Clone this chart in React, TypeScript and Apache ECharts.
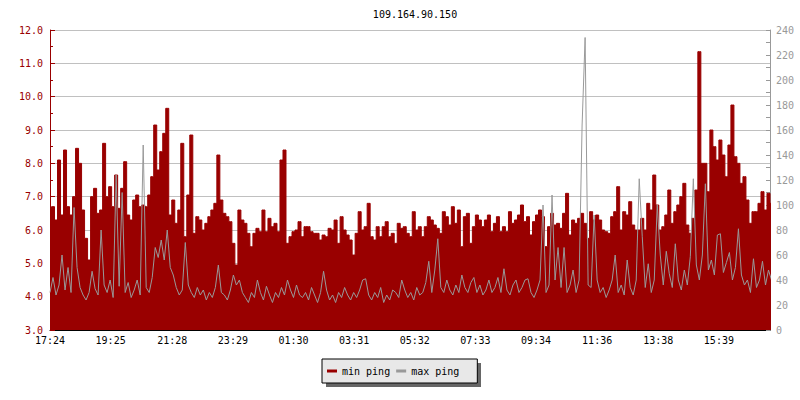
import React, { useEffect, useRef } from 'react';
import * as echarts from 'echarts';

const chartTitle = '109.164.90.150';
const seriesNames = ['min ping', 'max ping'];
const sampleStepMinutes = 6;
const tickMinutes = [0, 121, 244, 365, 486, 607, 728, 849, 970, 1092, 1214, 1335];
const tickLabels = ['17:24', '19:25', '21:28', '23:29', '01:30', '03:31', '05:32', '07:33', '09:34', '11:36', '13:38', '15:39'];

// min ping (left axis, ms)
const minPing = [
  5.5, 6.7, 6.3, 8.1, 6.45, 8.4, 6.7, 6.45, 7.0, 8.45,
  8.0, 6.6, 5.75, 5.1, 7.0, 7.25, 6.5, 6.6, 8.6, 7.0,
  7.3, 6.7, 7.65, 6.65, 7.25, 8.05, 6.45, 6.3, 6.9, 7.05,
  6.7, 6.75, 6.7, 7.05, 7.6, 9.15, 7.8, 8.35, 8.9, 9.65,
  6.45, 6.9, 6.2, 6.6, 8.6, 5.8, 7.05, 8.85, 5.9, 6.4,
  6.3, 6.0, 6.2, 6.4, 6.6, 6.8, 8.25, 6.9, 6.5, 6.4,
  6.25, 5.6, 4.95, 6.6, 6.3, 6.2, 5.9, 5.5, 5.9, 6.05,
  5.95, 6.6, 5.95, 6.35, 6.1, 6.2, 5.95, 8.1, 8.4, 5.6,
  5.8, 5.95, 6.0, 6.25, 5.8, 6.1, 6.1, 5.95, 5.9, 5.9,
  5.7, 5.85, 5.8, 6.05, 6.0, 6.3, 5.6, 6.4, 6.0, 5.85,
  5.7, 5.25, 5.9, 6.55, 6.0, 6.1, 6.8, 5.8, 5.7, 6.1,
  5.8, 6.1, 6.25, 5.8, 5.9, 5.6, 6.2, 6.05, 6.1, 5.9,
  5.8, 6.55, 6.0, 6.1, 5.8, 6.1, 6.4, 6.3, 6.15, 6.05,
  5.9, 6.55, 6.4, 6.15, 6.7, 6.2, 6.6, 5.5, 6.4, 6.5,
  5.6, 6.1, 6.45, 6.3, 6.1, 6.3, 6.45, 5.95, 6.2, 6.4,
  5.95, 6.1, 5.95, 6.55, 6.2, 6.3, 6.45, 6.75, 6.25, 6.4,
  5.85, 6.25, 6.45, 6.6, 6.4, 5.5, 6.1, 6.5, 6.15, 6.2,
  6.05, 6.5, 7.1, 5.85, 6.3, 6.2, 6.35, 6.5, 6.2, 5.75,
  6.55, 6.3, 6.45, 6.3, 6.0, 5.95, 5.9, 6.4, 6.55, 7.3,
  6.0, 6.55, 6.45, 6.85, 6.15, 6.0, 6.0, 6.35, 6.0, 6.8,
  6.6, 7.65, 6.75, 6.0, 6.1, 6.45, 7.2, 6.2, 6.55, 6.75,
  7.0, 7.4, 6.15, 5.9, 6.35, 7.2, 11.35, 8.0, 8.0, 7.15,
  9.0, 8.5, 8.1, 8.7, 8.25, 7.6, 8.55, 9.75, 8.2, 8.0,
  7.4, 7.6, 6.9, 6.2, 6.55, 6.55, 6.8, 7.15, 6.6, 7.1,
  6.8,
];

// max ping (right axis, ms)
const maxPing = [
  30, 42, 28, 36, 60, 32, 50, 30, 98, 50,
  34, 28, 24, 30, 47, 33, 28, 80, 36, 30,
  40, 26, 124, 35, 110, 30, 38, 26, 32, 40,
  28, 148, 34, 30, 42, 66, 58, 72, 56, 80,
  50, 44, 34, 28, 32, 70, 36, 30, 26, 34,
  28, 32, 24, 30, 26, 34, 52, 30, 28, 24,
  32, 44, 36, 40, 30, 26, 22, 30, 26, 40,
  30, 24, 35, 28, 22, 30, 26, 34, 28, 40,
  32, 26, 36, 28, 26, 30, 24, 34, 28, 22,
  30, 47, 32, 24, 28, 22, 30, 26, 34, 28,
  24, 30, 26, 32, 40, 41, 28, 24, 30, 26,
  34, 22, 28, 24, 32, 30, 26, 40, 32, 26,
  30, 24, 34, 28, 30, 38, 55, 30, 48, 73,
  34, 30, 40, 32, 28, 36, 30, 44, 34, 30,
  38, 42, 30, 36, 28, 32, 40, 30, 34, 42,
  30, 49, 32, 28, 36, 40, 30, 34, 40, 41,
  30, 26, 32, 40, 100, 30, 36, 108, 40, 66,
  34, 66, 30, 36, 48, 30, 40, 164, 234, 36,
  34, 92, 40, 30, 34, 26, 32, 40, 60, 30,
  36, 28, 56, 34, 28, 40, 121, 75, 34, 53,
  30, 40, 100, 60, 36, 63, 45, 34, 69, 40,
  32, 48, 36, 59, 121, 52, 40, 60, 117, 48,
  56, 44, 76, 77, 46, 54, 62, 40, 50, 81,
  44, 36, 40, 30, 57, 34, 40, 55, 36, 48,
  40,
];

const RED = '#990000';
const GRAY = '#999999';
const FONT = 'DejaVu Sans Mono';

export default function App() {
  const ref = useRef<HTMLDivElement>(null);
  useEffect(() => {
    if (!ref.current) return;
    const chart = echarts.init(ref.current, null, { renderer: 'svg' });
    const minData = minPing.map((v, i) => [i * sampleStepMinutes, v]);
    const maxData = maxPing.map((v, i) => [i * sampleStepMinutes, v]);
    const labelFor = (v: number) => {
      let best = -1;
      let bd = 1e9;
      tickMinutes.forEach((t, i) => {
        const d = Math.abs(t - v);
        if (d < bd) { bd = d; best = i; }
      });
      return bd < 1 ? tickLabels[best] : '';
    };
    chart.setOption({
      animation: false,
      backgroundColor: '#ffffff',
      title: {
        text: chartTitle,
        left: 410,
        top: 4,
        textAlign: 'center',
        textStyle: { fontFamily: FONT, fontSize: 10, fontWeight: 'normal', color: '#000' },
      },
      grid: { left: 50, right: 30, top: 30, bottom: 70 },
      legend: {
        left: 322,
        top: 359,
        z: 10,
        selectedMode: false,
        backgroundColor: '#e8e8e8',
        borderColor: '#000',
        borderWidth: 1,
        padding: [7, 18, 7, 5],
        itemGap: 6,
        itemWidth: 10,
        itemHeight: 3,
        icon: 'rect',
        textStyle: { fontFamily: FONT, fontSize: 10, color: '#000' },
        data: [
          { name: seriesNames[0], itemStyle: { color: RED } },
          { name: seriesNames[1], itemStyle: { color: GRAY } },
        ],
      },
      graphic: [
        {
          type: 'rect',
          z: 1,
          shape: { x: 326, y: 363, width: 155, height: 24 },
          style: { fill: '#666666' },
        },
      ],
      xAxis: {
        type: 'value',
        min: 0,
        max: 1437,
        axisLine: { show: true, onZero: false, lineStyle: { color: '#000', width: 1 } },
        axisTick: { show: true, inside: true, length: 5, customValues: tickMinutes, lineStyle: { color: '#000' } },
        axisLabel: {
          customValues: tickMinutes,
          formatter: (v: number) => labelFor(v),
          fontFamily: FONT,
          fontSize: 10,
          color: '#000',
          margin: 5,
        },
        splitLine: { show: false },
      },
      yAxis: [
        {
          type: 'value',
          min: 3,
          max: 12,
          interval: 1,
          position: 'left',
          axisLine: { show: true, lineStyle: { color: RED } },
          axisTick: { show: true, inside: true, length: 5, lineStyle: { color: RED } },
          minorTick: { show: true, splitNumber: 2, length: 3, lineStyle: { color: RED } },
          axisLabel: {
            formatter: (v: number) => v.toFixed(1),
            color: RED,
            fontFamily: FONT,
            fontSize: 10,
            margin: 7,
          },
          splitLine: { show: true, lineStyle: { color: '#c0c0c0', width: 1 } },
        },
        {
          type: 'value',
          min: 0,
          max: 240,
          interval: 20,
          position: 'right',
          axisLine: { show: true, lineStyle: { color: GRAY } },
          axisTick: { show: true, inside: true, length: 4, lineStyle: { color: GRAY } },
          minorTick: { show: true, splitNumber: 2, length: 4, lineStyle: { color: GRAY } },
          axisLabel: { color: GRAY, fontFamily: FONT, fontSize: 10, margin: 6 },
          splitLine: { show: false },
        },
      ],
      series: [
        {
          name: seriesNames[0],
          type: 'line',
          yAxisIndex: 0,
          data: minData,
          step: 'middle',
          symbol: 'none',
          showSymbol: false,
          z: 2,
          lineStyle: { color: RED, width: 1 },
          itemStyle: { color: RED },
          areaStyle: { color: RED, opacity: 1, origin: 'start' },
        },
        {
          name: seriesNames[1],
          type: 'line',
          yAxisIndex: 1,
          data: maxData,
          symbol: 'none',
          showSymbol: false,
          z: 3,
          lineStyle: { color: GRAY, width: 1 },
          itemStyle: { color: GRAY },
        },
      ],
    });
    return () => chart.dispose();
  }, []);
  return (
    <div
      ref={ref}
      style={{ position: 'fixed', left: 0, top: 0, width: 800, height: 400, background: '#fff' }}
    />
  );
}
